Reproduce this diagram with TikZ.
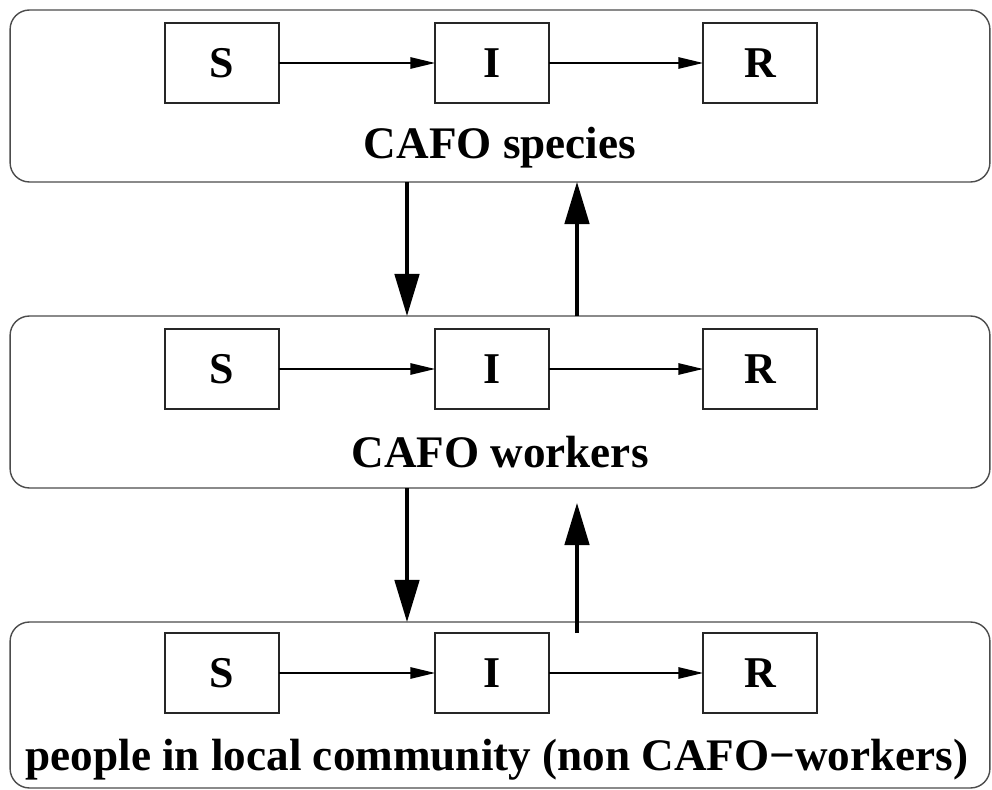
\documentclass[tikz,border=0pt]{standalone}
\usepackage{fontspec}
\setmainfont{Liberation Serif}
\usetikzlibrary{arrows.meta}
\begin{document}
\begin{tikzpicture}[x=0.02cm,y=-0.02cm,
  layer/.style={draw=black!70, line width=0.8pt, rounded corners=11pt, minimum width=19.6cm, inner sep=0pt, outer sep=0pt},
  state/.style={draw=black!85, line width=0.8pt, minimum width=2.28cm, minimum height=1.6cm, inner sep=0pt, outer sep=0pt, font=\bfseries\fontsize{25}{29}\selectfont},
  lbl/.style={font=\bfseries\fontsize{25.7}{30}\selectfont, inner sep=0pt},
  flow/.style={draw=black, line width=0.8pt, -{Triangle[length=14pt,width=6.5pt]}},
  link/.style={draw=black, line width=1.8pt, -{Triangle[length=24pt,width=14pt]}}
]
\useasboundingbox (0,0) rectangle (992,790);
% layers
\node[layer, minimum height=3.44cm] (L1) at (500,96) {};
\node[layer, minimum height=3.44cm] (L2) at (500,402) {};
\node[layer, minimum height=3.32cm] (L3) at (500,705) {};
% states
\node[state] (S1) at (222,63) {S};
\node[state] (I1) at (492,63) {I};
\node[state] (R1) at (760,63) {R};
\node[state] (S2) at (222,369) {S};
\node[state] (I2) at (492,369) {I};
\node[state] (R2) at (760,369) {R};
\node[state] (S3) at (222,673) {S};
\node[state] (I3) at (492,673) {I};
\node[state] (R3) at (760,673) {R};
% labels
\node[lbl] (T1) at (500,148) {CAFO species};
\node[lbl] (T2) at (500,452) {CAFO workers};
\node[lbl] (T3) at (497,760) {people in local community (non CAFO−workers)};
% flows
\draw[flow] (S1) -- (I1);
\draw[flow] (I1) -- (R1);
\draw[flow] (S2) -- (I2);
\draw[flow] (I2) -- (R2);
\draw[flow] (S3) -- (I3);
\draw[flow] (I3) -- (R3);
% links
\coordinate (dx) at (407,0);
\coordinate (ux) at (577,0);
\coordinate (tip2) at (577,503);
\draw[link] (L1.south -| dx) -- (L2.north -| dx);
\draw[link] (L2.north -| ux) -- (L1.south -| ux);
\draw[link] (L2.south -| dx) -- (L3.north -| dx);
\draw[link] (I3.north -| ux) -- (tip2);
\end{tikzpicture}
\end{document}
